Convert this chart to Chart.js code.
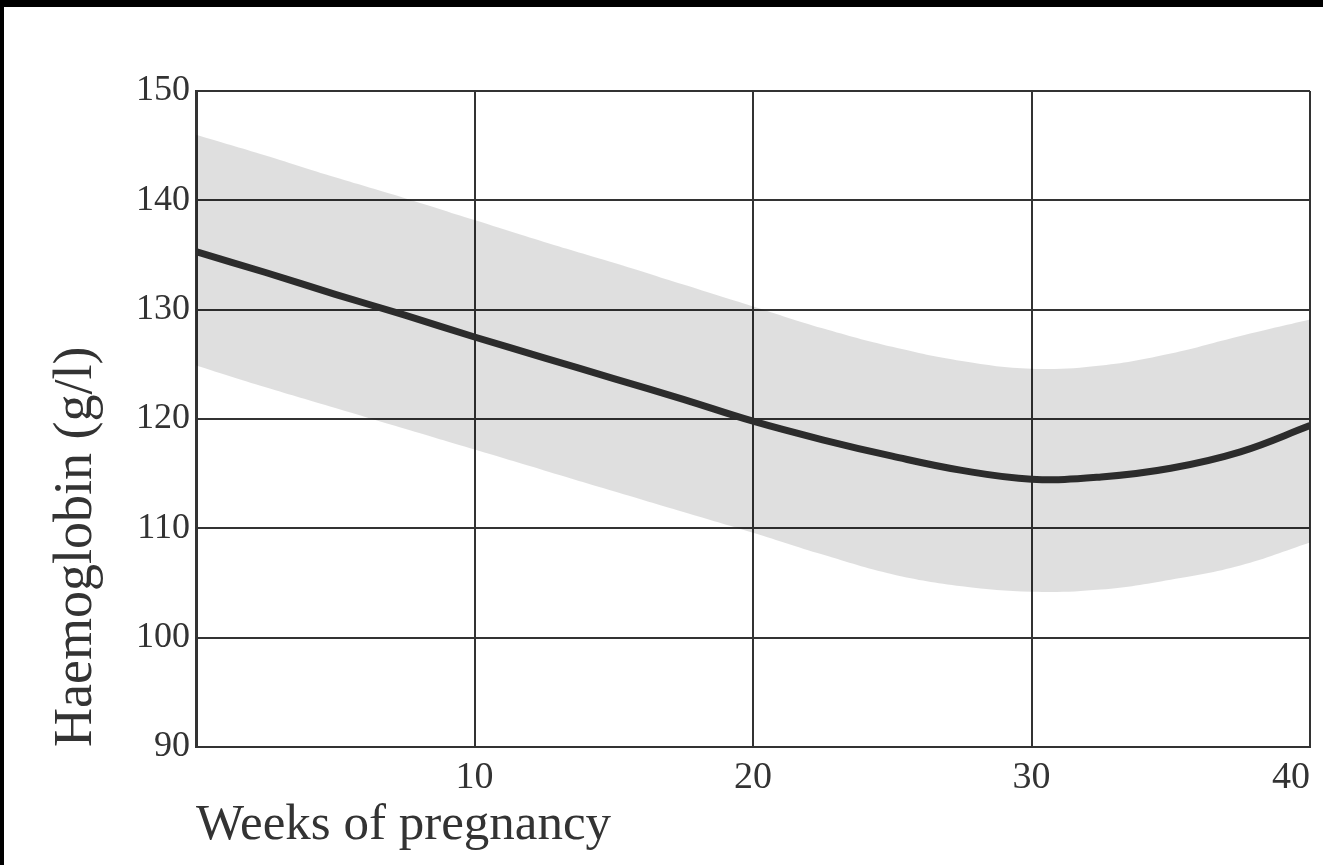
<!DOCTYPE html>
<html>
<head>
<meta charset="utf-8">
<script src="https://cdn.jsdelivr.net/npm/chart.js@4/dist/chart.umd.min.js"></script>
<style>
  html, body { margin: 0; padding: 0; background: #000; width: 1323px; height: 865px; overflow: hidden; }
  #wrap { position: absolute; left: 4px; top: 7px; width: 1319px; height: 858px; background: #fff; }
  canvas { display: block; }
</style>
</head>
<body>
<div id="wrap"><canvas id="chart" width="1319" height="858"></canvas></div>
<script>
// Haemoglobin during pregnancy: mean curve and normal range band
const weeks = [0, 2.5, 5, 7.5, 10, 12.5, 15, 17.5, 20, 22.5, 25, 27.5, 30, 32.5, 35, 37.5, 40];
const meanHb = [135.3, 133.4, 131.4, 129.5, 127.5, 125.6, 123.7, 121.8, 119.8, 118.1, 116.6, 115.3, 114.5, 114.7, 115.5, 117.0, 119.4];
const upperHb = [146.0, 144.1, 142.1, 140.2, 138.2, 136.2, 134.3, 132.3, 130.3, 128.3, 126.6, 125.3, 124.6, 124.9, 126.0, 127.6, 129.1];
const lowerHb = [124.9, 122.9, 121.0, 119.1, 117.2, 115.3, 113.4, 111.5, 109.6, 107.6, 105.8, 104.7, 104.2, 104.4, 105.3, 106.6, 108.7];
const xTicks = [10, 20, 30, 40];
const yTicks = [90, 100, 110, 120, 130, 140, 150];

const pts = arr => weeks.map((w, i) => ({ x: w, y: arr[i] }));
const serif = "'Liberation Serif', 'DejaVu Serif', serif";

new Chart(document.getElementById('chart'), {
  type: 'line',
  data: {
    datasets: [
      {
        label: 'upper',
        data: pts(upperHb),
        borderWidth: 0,
        pointRadius: 0,
        fill: '+1',
        backgroundColor: 'rgba(0,0,0,0.125)',
        tension: 0.4
      },
      {
        label: 'lower',
        data: pts(lowerHb),
        borderWidth: 0,
        pointRadius: 0,
        fill: false,
        tension: 0.4
      },
      {
        label: 'mean',
        data: pts(meanHb),
        borderColor: '#333333',
        borderWidth: 7,
        pointRadius: 0,
        fill: false,
        tension: 0.4
      }
    ]
  },
  options: {
    responsive: false,
    animation: false,
    layout: { padding: { top: 84, right: 13, left: 40, bottom: 0 } },
    plugins: { legend: { display: false }, tooltip: { enabled: false } },
    scales: {
      x: {
        type: 'linear',
        min: 0,
        max: 40,
        afterBuildTicks: s => { s.ticks = [0].concat(xTicks).map(v => ({ value: v })); },
        afterFit: s => { s.height = 118; },
        ticks: {
          align: 'inner',
          maxRotation: 0,
          padding: 8,
          color: '#333',
          font: { family: serif, size: 38 },
          callback: v => (v === 0 ? '' : String(v))
        },
        grid: { color: '#333', lineWidth: 2, drawTicks: false },
        border: { color: '#333', width: 2 },
        title: {
          display: true,
          text: 'Weeks of pregnancy',
          align: 'start',
          color: '#333',
          font: { family: serif, size: 51 },
          padding: { top: 2, bottom: 9 }
        }
      },
      y: {
        min: 90,
        max: 150,
        afterBuildTicks: s => { s.ticks = yTicks.map(v => ({ value: v })); },
        afterFit: s => { s.width = 152; },
        ticks: {
          padding: 6,
          color: '#333',
          font: { family: serif, size: 36 }
        },
        grid: { color: '#333', lineWidth: 2, drawTicks: false },
        border: { color: '#333', width: 3 },
        title: {
          display: true,
          text: 'Haemoglobin (g/l)',
          align: 'start',
          color: '#333',
          font: { family: serif, size: 54 },
          padding: { top: 0, bottom: 0 }
        }
      }
    }
  }
});
</script>
</body>
</html>
